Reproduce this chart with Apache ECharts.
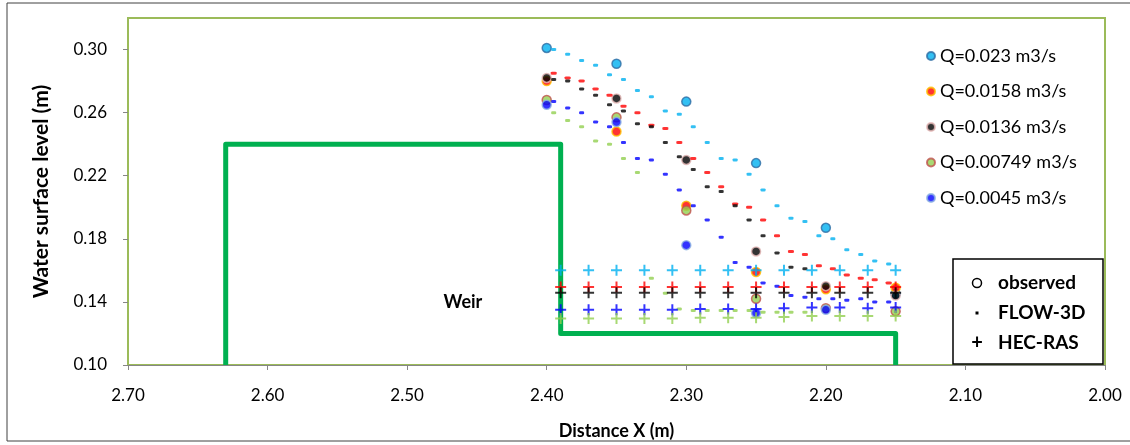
<!DOCTYPE html>
<html>
<head>
<meta charset="utf-8">
<script src="https://cdn.jsdelivr.net/npm/echarts@6/dist/echarts.min.js"></script>
<style>
  html, body { margin: 0; padding: 0; background: #fff; }
  #weir_chart { width: 1130px; height: 445px; }
</style>
</head>
<body>
<div id="weir_chart"></div>
<script>
// x positions
var obsX = [2.40, 2.35, 2.30, 2.25, 2.20, 2.15];
var flowX = [2.395, 2.385, 2.375, 2.365, 2.355, 2.345, 2.335, 2.325, 2.315, 2.305, 2.295, 2.285, 2.275,
             2.265, 2.255, 2.245, 2.235, 2.225, 2.215, 2.205, 2.195, 2.185, 2.175, 2.165, 2.155];
var hecX = [2.39, 2.37, 2.35, 2.33, 2.31, 2.29, 2.27, 2.25, 2.23, 2.21, 2.19, 2.17, 2.15];

// weir outline
var weirX = [2.63, 2.63, 2.39, 2.39, 2.15, 2.15];
var weirY = [0.10, 0.24, 0.24, 0.12, 0.12, 0.10];
var weirLabelPos = [2.46, 0.14];

var yTicks = [0.10, 0.14, 0.18, 0.22, 0.26, 0.30];
var xTicks = [2.70, 2.60, 2.50, 2.40, 2.30, 2.20, 2.10, 2.00];

var qNames = ['Q=0.023 m3/s', 'Q=0.0158 m3/s', 'Q=0.0136 m3/s', 'Q=0.00749 m3/s', 'Q=0.0045 m3/s'];

// observed
var obs023 = [0.301, 0.291, 0.267, 0.228, 0.187, 0.145];
var obs0158 = [0.280, 0.248, 0.201, 0.159, 0.148, 0.149];
var obs0136 = [0.282, 0.269, 0.230, 0.172, 0.150, 0.144];
var obs00749 = [0.268, 0.257, 0.198, 0.142, 0.136, 0.134];
var obs0045 = [0.265, 0.254, 0.176, 0.133, 0.135, null];

// FLOW-3D
var flow023 = [0.300, 0.297, 0.293, 0.290, 0.284, 0.281, 0.274, 0.270, 0.261, 0.259, 0.251, 0.241, 0.231,
               0.230, 0.221, 0.211, 0.201, 0.193, 0.191, 0.182, 0.180, 0.173, 0.170, 0.166, 0.164];
var flow0158 = [0.285, 0.282, 0.280, 0.275, 0.271, 0.264, 0.260, 0.252, 0.250, 0.241, 0.231, 0.222, 0.213,
                0.202, 0.200, 0.192, 0.182, 0.172, 0.170, 0.163, 0.161, 0.157, 0.155, 0.154, 0.152];
var flow0136 = [0.281, 0.280, 0.275, 0.271, 0.265, 0.261, 0.253, 0.251, 0.241, 0.232, 0.224, 0.213, 0.210,
                0.201, 0.192, 0.182, 0.171, 0.162, 0.161];
var flow00749 = [0.260, 0.255, 0.251, 0.242, 0.240, 0.231, 0.222, 0.155, 0.1455, 0.1355, 0.1345, 0.1345, 0.1345,
                 0.1345, 0.1345, 0.1335, 0.1335, 0.1335, 0.1335];
var flow0045 = [0.267, 0.263, 0.260, 0.254, 0.251, 0.241, 0.231, 0.230, 0.221, 0.211, 0.201, 0.192, 0.181,
                0.165, 0.162, 0.152, 0.150, 0.144, 0.143, 0.142, 0.142, 0.141, 0.142, 0.140, 0.140];

// HEC-RAS
var hec023 = [0.160, 0.160, 0.160, 0.160, 0.160, 0.160, 0.160, 0.160, 0.160, 0.160, 0.160, 0.160, 0.160];
var hec0158 = [0.1495, 0.1495, 0.1495, 0.1495, 0.1495, 0.1495, 0.1495, 0.1495, 0.1495, 0.1495, 0.1495, 0.1495, 0.1495];
var hec0136 = [0.1458, 0.1458, 0.1458, 0.1458, 0.1458, 0.1458, 0.1458, 0.1458, 0.1458, 0.1458, 0.1458, 0.1458, 0.1458];
var hec0045 = [0.135, 0.135, 0.135, 0.135, 0.135, 0.1355, 0.1355, 0.1355, 0.136, 0.1365, 0.1365, 0.136, 0.1365];
var hec00749 = [0.1295, 0.1295, 0.1295, 0.1295, 0.1295, 0.130, 0.130, 0.130, 0.1305, 0.131, 0.131, 0.131, 0.131];

var fillColors = ['#00b0f0', '#ff0000', '#000000', '#92d050', '#0000ff'];
var ringColors = ['#2e6da4', '#ffc000', '#e6b9b8', '#c0504d', '#8db3e2'];
var plusPath = 'path://M4.5,0H6.5V4.5H11V6.5H6.5V11H4.5V6.5H0V4.5H4.5Z';

function pairs(xs, ys) {
  var out = [];
  for (var i = 0; i < ys.length; i++) {
    out.push(ys[i] == null ? [xs[i], null] : [xs[i], ys[i]]);
  }
  return out;
}

var obsAll = [obs023, obs0158, obs0136, obs00749, obs0045];
var flowAll = [flow023, flow0158, flow0136, flow00749, flow0045];
var hecAll = [hec023, hec0158, hec0136, hec0045, hec00749];
var hecColors = ['#00b0f0', '#ff0000', '#000000', '#0000ff', '#92d050'];

var series = [];
series.push({
  name: 'weir',
  type: 'line',
  data: pairs(weirX, weirY),
  symbol: 'none',
  lineStyle: { color: '#00b050', width: 5, join: 'round' },
  z: 1,
  silent: true,
  markPoint: {
    symbol: 'circle',
    symbolSize: 1,
    itemStyle: { color: 'rgba(255,255,255,0)' },
    label: {
      show: true,
      position: 'inside',
      formatter: '{w|Weir}',
      rich: { w: { fontFamily: 'Lato', fontWeight: 'bold', fontSize: 18, color: '#000' } }
    },
    data: [{ coord: weirLabelPos }]
  }
});
for (var k = 0; k < 5; k++) {
  series.push({
    name: qNames[k],
    type: 'scatter',
    data: pairs(obsX, obsAll[k]),
    symbol: 'circle',
    symbolSize: 9,
    itemStyle: { color: fillColors[k], borderColor: ringColors[k], borderWidth: 1.5 },
    z: 3
  });
}
for (var k = 0; k < 5; k++) {
  series.push({
    name: 'FLOW-3D ' + k,
    type: 'scatter',
    data: pairs(flowX, flowAll[k]),
    symbol: 'roundRect',
    symbolSize: k == 1 ? [6, 3] : [5, 3],
    itemStyle: { color: fillColors[k] },
    z: 4
  });
}
for (var k = 0; k < 5; k++) {
  series.push({
    name: 'HEC-RAS ' + k,
    type: 'scatter',
    data: pairs(hecX, hecAll[k]),
    symbol: plusPath,
    symbolSize: 11,
    itemStyle: { color: hecColors[k] },
    z: 5
  });
}

var option = {
  animation: false,
  textStyle: { fontFamily: 'Lato' },
  grid: {
    left: 128, right: 25, top: 18, bottom: 80,
    show: true, borderColor: '#9bbb59', borderWidth: 2, backgroundColor: '#fff'
  },
  legend: {
    data: qNames,
    orient: 'vertical',
    left: 921,
    top: 42,
    itemWidth: 8,
    itemHeight: 8,
    itemGap: 17.5,
    textStyle: { fontSize: 18, color: '#000', fontFamily: 'Lato' },
    selectedMode: false
  },
  xAxis: {
    type: 'value',
    inverse: true,
    min: 2.0,
    max: 2.7,
    interval: 0.1,
    name: 'Distance X (m)',
    nameLocation: 'middle',
    nameGap: 57,
    nameTextStyle: { fontSize: 18, fontWeight: 'bold', color: '#000', fontFamily: 'Lato' },
    splitLine: { show: false },
    axisLine: { show: true, lineStyle: { color: '#868686' } },
    axisTick: { show: true, length: 5, lineStyle: { color: '#868686' }, customValues: xTicks },
    axisLabel: {
      customValues: xTicks,
      margin: 22, fontSize: 17, color: '#000',
      formatter: function (v) { return v.toFixed(2); }
    }
  },
  yAxis: {
    type: 'value',
    min: 0.10,
    max: 0.32,
    interval: 0.02,
    name: 'Water surface level (m)',
    nameLocation: 'middle',
    nameGap: 76,
    nameTextStyle: { fontSize: 21, fontWeight: 'bold', color: '#000', fontFamily: 'Lato' },
    splitLine: { show: false },
    axisLine: { show: false },
    axisTick: { show: true, length: 5, lineStyle: { color: '#868686' }, customValues: yTicks },
    axisLabel: {
      customValues: yTicks,
      margin: 21, fontSize: 17, color: '#000',
      formatter: function (v) { return v.toFixed(2); }
    }
  },
  graphic: [
    {
      type: 'rect', z: -10, silent: true,
      shape: { x: 7, y: 3, width: 1130, height: 438 },
      style: { fill: 'none', stroke: '#404040', lineWidth: 1 }
    },
    {
      type: 'group', z: 100, silent: true,
      children: [
        { type: 'rect', shape: { x: 953, y: 259, width: 150, height: 105 },
          style: { fill: '#fff', stroke: '#000', lineWidth: 1.5 } },
        { type: 'circle', shape: { cx: 977, cy: 283, r: 4.5 },
          style: { fill: '#fff', stroke: '#000', lineWidth: 1.5 } },
        { type: 'rect', shape: { x: 975.5, y: 311.5, width: 3, height: 3 },
          style: { fill: '#000' } },
        { type: 'text', x: 977, y: 343,
          style: { text: '+', font: 'bold 20px Lato', fill: '#000', align: 'center', verticalAlign: 'middle' } },
        { type: 'text', x: 998, y: 283,
          style: { text: 'observed', font: 'bold 19px Lato', fill: '#000', verticalAlign: 'middle' } },
        { type: 'text', x: 998, y: 313,
          style: { text: 'FLOW-3D', font: 'bold 19px Lato', fill: '#000', verticalAlign: 'middle' } },
        { type: 'text', x: 998, y: 343,
          style: { text: 'HEC-RAS', font: 'bold 19px Lato', fill: '#000', verticalAlign: 'middle' } }
      ]
    }
  ],
  series: series
};

var weirChart = echarts.init(document.getElementById('weir_chart'));
weirChart.setOption(option);
window.addEventListener('resize', function () {
  weirChart.resize();
});
</script>
</body>
</html>
